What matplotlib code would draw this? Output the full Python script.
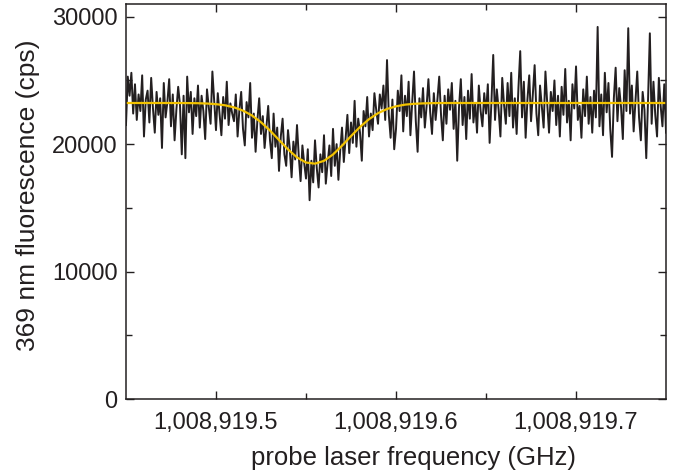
import numpy as np
import matplotlib.pyplot as plt
from matplotlib.ticker import FixedLocator, MultipleLocator, FuncFormatter

plt.rcParams['font.family'] = ['Liberation Sans', 'DejaVu Sans']

# probe sweep (GHz)
f_start = 1008919.45
f_stop = 1008919.75

counts = [
    21500, 25300, 23800, 25600, 22400, 24700, 21900, 23900, 22600, 25400,
    20600, 23500, 24200, 21700, 25200, 22800, 20900, 24100, 22300, 23600,
    19700, 24800, 22100, 23300, 25100, 21400, 23900, 20300, 22700, 24500,
    23100, 19200, 23800, 18900, 25300, 22500, 24100, 20800, 23600, 22200,
    24600, 21300, 23800, 22600, 20400, 24300, 22900, 21600, 25700, 23400,
    21100, 24000, 22300, 20700, 23700, 22000, 24900, 21500, 23200, 22400,
    21800, 23900, 20600, 22700, 24100, 21200, 19900, 23300, 22100, 24800,
    20500, 22400, 19400, 21900, 23600, 20800, 22200, 19700, 21400, 23000,
    20300, 18900, 22400, 19800, 21300, 17900, 20600, 22000, 19200, 18300,
    21100, 19600, 17400, 20200, 18800, 21500, 19000, 17100, 19900, 18500,
    17300, 19600, 15600, 18700, 17000, 20300, 18100, 16600, 19200, 17800,
    20700, 16900, 18500, 19900, 17500, 21200, 18300, 20000, 17200, 19500,
    21300, 18600, 20400, 22300, 19300, 21700, 20100, 23400, 19800, 22000,
    20900, 18700, 22600, 21400, 23700, 20600, 22400, 21100, 24000, 22700,
    21600, 23900, 22800, 24600, 21900, 26600, 22300, 20500, 23500, 19600,
    21200, 24200, 22600, 25400, 21000, 23800, 22200, 24900, 20700, 23300,
    25700, 21800, 19400, 23600, 22100, 24400, 21300, 23000, 25100, 22500,
    20800, 24000, 21900, 23500, 25300, 22300, 20300, 23800, 21600, 24300,
    22700, 24800, 21200, 23400, 18700, 22900, 25100, 21500, 23700, 20400,
    24200, 22000, 25500, 21700, 23200, 20900, 24600, 22600, 21400, 24000,
    22400, 24700, 20100, 23300, 27000, 21900, 24300, 22700, 20600, 25200,
    23100, 21600, 24800, 22200, 25600, 21300, 23600, 20800, 24400, 27300,
    22100, 24900, 20500, 23500, 25400, 21800, 23900, 26200, 22400, 20700,
    24600, 22900, 21300, 25700, 23200, 20900, 24100, 22600, 25000, 21500,
    23800, 20600, 24500, 22300, 25900, 21700, 23400, 20300, 24700, 22800,
    26100, 21900, 23000, 20500, 24300, 22200, 25300, 21600, 23700, 20900,
    24200, 22100, 29200, 21400, 23900, 20700, 25600, 22500, 24800, 21200,
    19000, 23600, 26000, 21800, 24400, 22900, 20400, 25800, 22600, 29100,
    22400, 24600, 21000, 23300, 25700, 22100, 20300, 24100, 22700, 18900,
    23500, 28700, 21600, 24900, 22300, 20600, 25200, 23000, 21400, 24700,
    20900,
]

# fitted dip (cps), sampled every 5 MHz
fit = [
    23230, 23230, 23230, 23230, 23230, 23229, 23228, 23222, 23212, 23188,
    23140, 23050, 22890, 22630, 22250, 21720, 21070, 20330, 19590, 18960,
    18560, 18470, 18690, 19190, 19880, 20630, 21350, 21960, 22430, 22760,
    22970, 23100, 23165, 23200, 23218, 23226, 23229, 23230, 23230, 23230,
    23230, 23230, 23230, 23230, 23230, 23230, 23230, 23230, 23230, 23230,
    23230, 23230, 23230, 23230, 23230, 23230, 23230, 23230, 23230, 23230,
    23230,
]

freq = np.linspace(f_start, f_stop, len(counts))
freq_fit = np.linspace(f_start, f_stop, len(fit))

fig = plt.figure(figsize=(6.88, 4.74), dpi=100)
ax = fig.add_axes([0.1831, 0.1582, 0.785, 0.8334])

ax.plot(freq, counts, color='#231f20', lw=1.4)
ax.plot(freq_fit, fit, color='#f2c200', lw=1.6)

ax.set_xlim(f_start, f_stop)
ax.set_ylim(0, 31000)

ax.xaxis.set_major_locator(FixedLocator([1008919.5, 1008919.6, 1008919.7]))
ax.xaxis.set_minor_locator(FixedLocator([1008919.55, 1008919.65]))
ax.xaxis.set_major_formatter(FuncFormatter(lambda v, p: '{:,.1f}'.format(v)))
ax.yaxis.set_major_locator(MultipleLocator(10000))
ax.yaxis.set_minor_locator(MultipleLocator(5000))

ax.tick_params(which='both', direction='in', top=True, right=True,
               labelsize=17, width=1, color='#231f20', labelcolor='#231f20')
ax.tick_params(which='major', length=6)
ax.tick_params(axis='x', which='major', pad=9)
ax.tick_params(axis='y', which='major', pad=6)
ax.tick_params(which='minor', length=4)
for s in ax.spines.values():
    s.set_linewidth(1.1)
    s.set_color('#231f20')

ax.set_xlabel('probe laser frequency (GHz)', fontsize=18.5, color='#231f20', labelpad=9)
ax.set_ylabel('369 nm fluorescence (cps)', fontsize=19, color='#231f20', labelpad=9)
# labels sit a little off-centre in the original
ax.xaxis.label.set_x(0.533)
ax.yaxis.label.set_y(0.515)

fig.savefig('out.png', dpi=100)
